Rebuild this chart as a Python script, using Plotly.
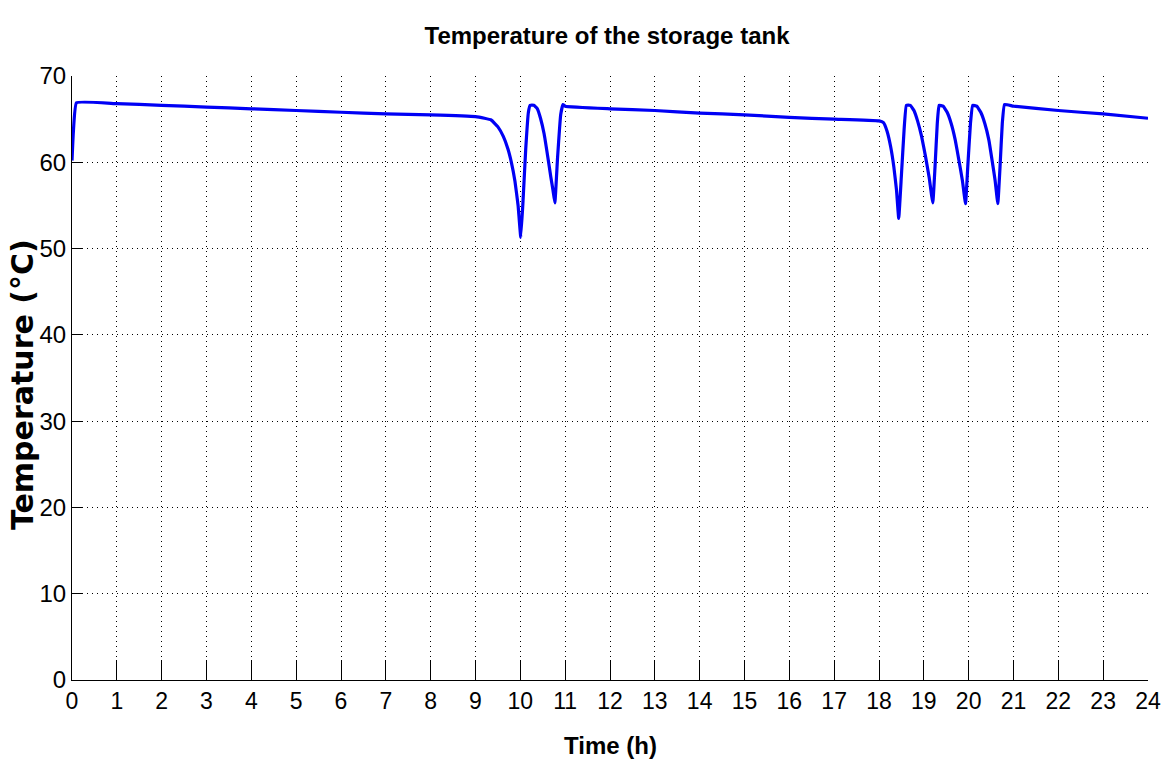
import plotly.graph_objects as go

# Time (h) and storage tank temperature (°C)
time_h = [0.0, 0.03, 0.1, 1.0, 2.0, 3.0, 4.0, 5.0, 6.0, 7.0, 8.0, 9.0,
          9.2, 9.35, 9.5, 9.62, 9.72, 9.8, 9.88, 9.95, 10.01,
          10.06, 10.12, 10.18, 10.22, 10.3, 10.38, 10.45, 10.53, 10.61, 10.68, 10.73, 10.77,
          10.83, 10.9, 10.95, 11.0,
          12.0, 13.0, 14.0, 15.0, 16.0, 17.0, 18.0,
          18.1, 18.18, 18.26, 18.33, 18.39, 18.44,
          18.5, 18.56, 18.61, 18.7, 18.78, 18.86, 18.95, 19.04, 19.12, 19.2,
          19.25, 19.3, 19.34, 19.43, 19.52, 19.61, 19.7, 19.78, 19.86, 19.93,
          19.98, 20.04, 20.09, 20.18, 20.27, 20.36, 20.45, 20.52, 20.59, 20.65,
          20.7, 20.75, 20.8, 21.0, 22.0, 23.0, 24.0]
temp_c = [60.2, 63.5, 66.9, 66.8, 66.6, 66.4, 66.2, 66.0, 65.8, 65.6, 65.5, 65.3,
          65.1, 64.9, 64.1, 63.0, 61.6, 60.0, 57.8, 55.0, 51.3,
          55.5, 61.5, 65.8, 66.6, 66.6, 66.2, 65.1, 63.3, 60.7, 58.3, 56.7, 55.3,
          60.5, 65.5, 66.7, 66.5,
          66.2, 66.0, 65.7, 65.5, 65.2, 65.0, 64.8,
          64.6, 63.6, 61.8, 59.5, 56.8, 53.5,
          58.5, 63.8, 66.6, 66.6, 66.0, 64.8, 63.0, 60.6, 58.2, 55.3,
          59.5, 64.5, 66.6, 66.5, 65.8, 64.5, 62.6, 60.3, 57.9, 55.2,
          59.5, 64.5, 66.6, 66.5, 65.8, 64.5, 62.6, 60.3, 57.9, 55.2,
          59.5, 64.5, 66.7, 66.5, 66.0, 65.6, 65.1]

x_ticks = list(range(0, 25))
y_ticks = list(range(0, 71, 10))

fig = go.Figure()
fig.add_trace(go.Scatter(
    x=time_h, y=temp_c, mode="lines",
    line=dict(color="#0000f5", width=3.2, shape="spline", smoothing=0.3),
    showlegend=False, hoverinfo="x+y",
))

sans = "Liberation Sans, Arial, sans-serif"

fig.update_layout(
    width=1161, height=764,
    paper_bgcolor="white", plot_bgcolor="white",
    margin=dict(l=72, r=13, t=76, b=84, autoexpand=False),
    title=dict(
        text="<b>Temperature of the storage tank</b>",
        x=607 / 1161, xanchor="center", y=1 - 36 / 764, yanchor="middle",
        font=dict(family=sans, size=24, color="black"),
    ),
    xaxis=dict(
        range=[0, 24], tickvals=x_ticks, ticktext=[str(v) for v in x_ticks],
        showline=True, linecolor="black", linewidth=1, mirror=False,
        ticks="inside", ticklen=20, tickwidth=1, tickcolor="black",
        showgrid=True, gridcolor="black", gridwidth=1, griddash="1px,4px",
        zeroline=False, automargin=False, ticklabeloverflow="allow",
        tickfont=dict(family=sans, size=23, color="black"),
    ),
    yaxis=dict(
        range=[0, 70], tickvals=y_ticks, ticktext=[str(v) for v in y_ticks],
        showline=True, linecolor="black", linewidth=1, mirror=False,
        ticks="inside", ticklen=10, tickwidth=1, tickcolor="black",
        showgrid=True, gridcolor="black", gridwidth=1, griddash="1px,4px",
        zeroline=False, automargin=False, ticklabeloverflow="allow",
        tickfont=dict(family=sans, size=24, color="black"),
    ),
    annotations=[
        dict(text="<b>Time (h)</b>", xref="paper", yref="paper",
             x=(610 - 72) / 1076, y=(680 - 745) / 604,
             xanchor="center", yanchor="middle", showarrow=False,
             font=dict(family=sans, size=24, color="black")),
        dict(text="<b>Temperature (°C)</b>", xref="paper", yref="paper",
             x=(22 - 72) / 1076, y=(680 - 385) / 604, textangle=-90,
             xanchor="center", yanchor="middle", showarrow=False,
             font=dict(family="DejaVu Sans, Arial, sans-serif", size=30, color="black")),
    ],
)

# remove the browser's default 8px body margin so the figure fills the window exactly
fig.write_html("out.html", config={"displayModeBar": False},
               post_script="document.body.style.margin='0';")
